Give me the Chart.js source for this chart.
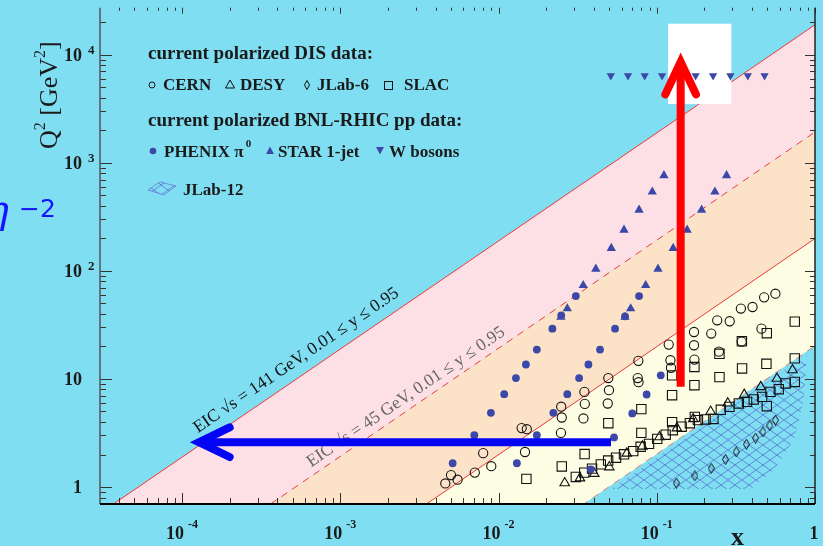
<!DOCTYPE html>
<html>
<head>
<meta charset="utf-8">
<script src="https://cdn.jsdelivr.net/npm/chart.js@4"></script>
<style>
html, body { margin: 0; padding: 0; background: #80def2; }
#wrap { position: relative; width: 823px; height: 546px; }
</style>
</head>
<body>
<div id="wrap"><canvas id="grafico"></canvas></div>
<script>
// Dados polarizados (x, Q2)
const cernX = [0.00461, 0.00501, 0.00551, 0.00708, 0.0080, 0.0090, 0.0140, 0.0151, 0.0147, 0.0249, 0.0251, 0.0248,
  0.0349, 0.0351, 0.0344, 0.0494, 0.0499, 0.0490, 0.0765, 0.0758, 0.0767, 0.119, 0.122, 0.123, 0.172, 0.172, 0.173,
  0.221, 0.241, 0.289, 0.340, 0.403, 0.477, 0.562, 0.459, 0.247, 0.344];
const cernQ2 = [1.08, 1.29, 1.17, 1.36, 2.06, 1.56, 3.51, 3.43, 2.11, 5.54, 4.40, 3.17,
  7.59, 5.88, 4.31, 10.2, 7.87, 5.93, 14.7, 10.2, 9.33, 20.8, 14.9, 12.7, 27.2, 20.5, 15.1,
  26.3, 34.9, 34.2, 44.8, 46.3, 56.9, 61.5, 29.2, 17.9, 22.2];

const desyX = [0.0262, 0.0327, 0.0403, 0.0501, 0.0646, 0.0811, 0.104, 0.134, 0.170, 0.219, 0.281, 0.357, 0.454, 0.575, 0.721];
const desyQ2 = [1.09, 1.21, 1.33, 1.53, 2.05, 2.38, 2.90, 3.51, 4.27, 5.00, 5.97, 7.16, 8.45, 10.1, 12.1];

const jlab6X = [0.133, 0.174, 0.221, 0.272, 0.318, 0.369, 0.421, 0.469, 0.518, 0.562];
const jlab6Q2 = [1.09, 1.27, 1.49, 1.80, 2.12, 2.49, 2.84, 3.24, 3.72, 4.16];

const slacX = [0.0150, 0.0251, 0.0350, 0.0494, 0.0799, 0.0799, 0.125, 0.125, 0.125, 0.173, 0.173, 0.174, 0.249, 0.249,
  0.345, 0.346, 0.496, 0.493, 0.745, 0.745, 0.496,
  0.0308, 0.0348, 0.0390, 0.0443, 0.0493, 0.0553, 0.0621, 0.0710, 0.0791, 0.0893, 0.1007, 0.1138, 0.1262, 0.1436,
  0.1619, 0.182, 0.2035, 0.228, 0.254, 0.288, 0.330, 0.372, 0.410, 0.463, 0.523, 0.590, 0.653, 0.745];
const slacQ2 = [1.19, 1.55, 2.02, 3.90, 5.26, 3.17, 10.8, 7.08, 3.99, 12.9, 8.75, 4.46, 17.1, 10.4,
  22.3, 12.5, 26.5, 13.8, 33.9, 15.5, 5.60,
  1.24, 1.36, 1.48, 1.62, 1.76, 1.87, 2.01, 2.15, 2.36, 2.51, 2.79, 3.05, 3.36, 3.62,
  3.90, 4.16, 4.22, 4.27, 5.18, 5.52, 5.93, 6.14, 6.46, 6.83, 7.59, 8.04, 9.08, 9.39];

const phenixX = [0.00513, 0.00703, 0.00895, 0.01086, 0.01288, 0.0149, 0.01746, 0.0219, 0.0249, 0.0308,
  0.01306, 0.01746, 0.0222, 0.0272, 0.0323, 0.0370, 0.0438, 0.0545, 0.0630, 0.0773,
  0.0383, 0.0537, 0.0700, 0.0863, 0.106];
const phenixQ2 = [1.66, 3.02, 4.86, 7.23, 10.2, 13.6, 18.7, 29.2, 38.8, 58.5,
  1.66, 3.02, 4.86, 7.23, 10.2, 13.6, 18.7, 29.2, 38.0, 58.5,
  1.46, 2.88, 4.80, 7.18, 10.8];

const starX = [0.0248, 0.0272, 0.0343, 0.0412, 0.0516, 0.0621, 0.0773, 0.0937, 0.111,
  0.0630, 0.0684, 0.0851, 0.1018, 0.127, 0.1556, 0.192, 0.233, 0.276];
const starQ2 = [37.4, 44.8, 73.5, 104, 162, 239, 366, 539, 763,
  37.4, 44.8, 73.5, 104, 162, 239, 366, 539, 763];

const wX = [0.0512, 0.0658, 0.0839, 0.108, 0.138, 0.176, 0.227, 0.292, 0.376, 0.480];
const wQ2 = [6400, 6400, 6400, 6400, 6400, 6400, 6400, 6400, 6400, 6400];

// Regiao JLab-12 (contorno)
const jlab12X = [0.0514, 0.393, 0.548, 0.734, 0.849, 0.886];
const jlab12Q2 = [0.958, 0.958, 1.44, 2.72, 6.36, 16.6];

// Limites cinematicos do EIC (extremos das retas)
const limiteX = [1e-5, 1];
const eic141Max = [0.189, 18887];
const eic45Max = [0.0192, 1924];
const eic141Min = [0.00199, 199];
const eic45Min = [0.0002, 20.25];

// Anotacoes
const caixaX = [0.119, 0.119, 0.294, 0.294];
const caixaQ2 = [19300, 3525, 3525, 19300];
const setaAzulX = [0.0514, 1.12e-4];
const setaAzulQ2 = 2.6;
const setaVermelhaX = 0.1416;
const setaVermelhaQ2 = [8.45, 10500];
const rotulo141 = [1.26e-4, 3.15];
const rotulo45 = [6.55e-4, 1.52];

// Eixos
const xTickValores = [1e-4, 1e-3, 1e-2, 1e-1, 1];
const xTickBase = ['10', '10', '10', '10', '1'];
const xTickExp = ['-4', '-3', '-2', '-1', ''];
const yTickValores = [1, 10, 100, 1000, 10000];
const yTickBase = ['1', '10', '10', '10', '10'];
const yTickExp = ['', '', '2', '3', '4'];

const corFundo = '#80def2';
const azul = '#3c48a8';
const serif = '"Liberation Serif", "Times New Roman", serif';

function pontos(xs, ys) {
    return xs.map((v, i) => ({ x: v, y: Array.isArray(ys) ? ys[i] : ys }));
}

function criarHachura(ctx) {
    const c = document.createElement('canvas');
    c.width = 14; c.height = 10;
    const g = c.getContext('2d');
    g.strokeStyle = 'rgba(70,70,200,0.7)';
    g.lineWidth = 0.8;
    g.beginPath();
    g.moveTo(0, 0); g.lineTo(14, 10);
    g.moveTo(0, 10); g.lineTo(14, 0);
    g.stroke();
    return ctx.createPattern(c, 'repeat');
}

function criarLosango() {
    const c = document.createElement('canvas');
    c.width = 7; c.height = 11;
    const g = c.getContext('2d');
    g.strokeStyle = '#111';
    g.lineWidth = 1;
    g.beginPath();
    g.moveTo(3.5, 0.5); g.lineTo(6.5, 5.5); g.lineTo(3.5, 10.5); g.lineTo(0.5, 5.5);
    g.closePath();
    g.stroke();
    return c;
}

function seta(ctx, x0, y0, x1, y1, cor, larg, aba, meioAng) {
    const ang = Math.atan2(y1 - y0, x1 - x0);
    // recua a ponta para que a juncao em esquadro termine em (x1, y1)
    const recuo = (larg / 2) / Math.sin(meioAng);
    const tx = x1 - Math.cos(ang) * recuo, ty = y1 - Math.sin(ang) * recuo;
    ctx.save();
    ctx.strokeStyle = cor;
    ctx.lineWidth = larg;
    ctx.lineCap = 'butt';
    ctx.beginPath();
    ctx.moveTo(x0, y0);
    ctx.lineTo(tx, ty);
    ctx.stroke();
    ctx.lineCap = 'round';
    ctx.lineJoin = 'miter';
    ctx.miterLimit = 10;
    ctx.beginPath();
    ctx.moveTo(tx - aba * Math.cos(ang - meioAng), ty - aba * Math.sin(ang - meioAng));
    ctx.lineTo(tx, ty);
    ctx.lineTo(tx - aba * Math.cos(ang + meioAng), ty - aba * Math.sin(ang + meioAng));
    ctx.stroke();
    ctx.restore();
}

function linha(ctx, a, b, c, d) {
    ctx.beginPath(); ctx.moveTo(a, b); ctx.lineTo(c, d); ctx.stroke();
}

const desenho = {
    id: 'desenho',
    beforeDraw(chart) {
        const ctx = chart.ctx;
        ctx.save();
        ctx.fillStyle = corFundo;
        ctx.fillRect(0, 0, chart.width, chart.height);
        ctx.restore();
    },
    afterDatasetsDraw(chart) {
        const { ctx, chartArea: a } = chart;
        const x = chart.scales.x, y = chart.scales.y;
        ctx.save();

        // marcas dos eixos (para dentro)
        ctx.strokeStyle = '#333';
        ctx.lineWidth = 1;
        for (let d = -5; d <= 0; d++) {
            for (let k = 1; k <= 9; k++) {
                const v = k * Math.pow(10, d);
                if (v < x.min || v > x.max * 1.0001) continue;
                const px = Math.round(x.getPixelForValue(v)) + 0.5;
                linha(ctx, px, a.bottom, px, a.bottom - (k === 1 ? 11 : 6));
                linha(ctx, px, a.top, px, a.top + (k === 1 ? 6 : 3));
            }
        }
        for (let d = -1; d <= 4; d++) {
            for (let k = 1; k <= 9; k++) {
                const v = k * Math.pow(10, d);
                if (v < y.min || v > y.max) continue;
                const py = Math.round(y.getPixelForValue(v)) + 0.5;
                linha(ctx, a.left, py, a.left + (k === 1 ? 12 : 6), py);
                linha(ctx, a.right, py, a.right - (k === 1 ? 10 : 5), py);
            }
        }
        // moldura
        ctx.strokeStyle = '#555';
        ctx.lineWidth = 1.5;
        linha(ctx, a.left, a.top, a.left, a.bottom);
        ctx.strokeStyle = '#222';
        linha(ctx, a.right, a.top, a.right, a.bottom);
        ctx.strokeStyle = '#000';
        ctx.lineWidth = 2;
        linha(ctx, a.left, a.bottom, a.right, a.bottom);

        // rotulos dos eixos
        ctx.fillStyle = '#1a1a1a';
        xTickValores.forEach((v, i) => {
            const px = x.getPixelForValue(v);
            if (xTickExp[i]) {
                ctx.font = 'bold 18px ' + serif;
                ctx.textAlign = 'right';
                ctx.fillText(xTickBase[i], px + 2, 539);
                ctx.font = 'bold 12px ' + serif;
                ctx.textAlign = 'left';
                ctx.fillText(xTickExp[i], px + 6, 528);
            } else {
                ctx.font = 'bold 18px ' + serif;
                ctx.textAlign = 'center';
                ctx.fillText(xTickBase[i], px - 1, 539);
            }
        });
        yTickValores.forEach((v, i) => {
            const py = y.getPixelForValue(v);
            ctx.font = 'bold 18px ' + serif;
            ctx.textAlign = 'right';
            ctx.fillText(yTickBase[i], 82, py + 6);
            if (yTickExp[i]) {
                ctx.font = 'bold 13px ' + serif;
                ctx.textAlign = 'left';
                ctx.fillText(yTickExp[i], 88, py - 1);
            }
        });
        ctx.textAlign = 'left';

        // rotulos das retas
        const ang = Math.atan2(y.getPixelForValue(10) - y.getPixelForValue(1),
            x.getPixelForValue(1e-2) - x.getPixelForValue(1e-3));
        [[rotulo141, 'EIC \u221As = 141 GeV, 0.01 \u2264 y \u2264 0.95', '#111'],
         [rotulo45, 'EIC \u221As = 45 GeV, 0.01 \u2264 y \u2264 0.95', '#666']].forEach(r => {
            ctx.save();
            ctx.translate(x.getPixelForValue(r[0][0]), y.getPixelForValue(r[0][1]));
            ctx.rotate(ang);
            ctx.fillStyle = r[2];
            ctx.font = '17.5px ' + serif;
            ctx.fillText(r[1], 0, 0);
            ctx.restore();
        });

        // caixa de legenda
        ctx.fillStyle = '#1a1a1a';
        ctx.font = 'bold 19px ' + serif;
        ctx.fillText('current polarized DIS data:', 148, 59);
        ctx.fillText('current polarized BNL-RHIC pp data:', 148, 126);
        ctx.font = 'bold 17px ' + serif;
        ctx.fillText('CERN', 163, 90);
        ctx.fillText('DESY', 240, 90);
        ctx.fillText('JLab-6', 317, 90);
        ctx.fillText('SLAC', 404, 90);
        ctx.fillText('PHENIX \u03C0', 164, 157);
        const wPi = ctx.measureText('PHENIX \u03C0').width;
        ctx.fillText('STAR 1-jet', 278, 157);
        ctx.fillText('W bosons', 389, 157);
        ctx.fillText('JLab-12', 183, 195);
        ctx.font = 'bold 11px ' + serif;
        ctx.fillText('0', 164 + wPi + 2, 147);

        ctx.strokeStyle = '#111';
        ctx.lineWidth = 1;
        ctx.beginPath(); ctx.arc(152, 85, 3, 0, Math.PI * 2); ctx.stroke();
        ctx.beginPath(); ctx.moveTo(230, 80); ctx.lineTo(234.5, 88); ctx.lineTo(225.5, 88); ctx.closePath(); ctx.stroke();
        ctx.beginPath(); ctx.moveTo(307, 80.5); ctx.lineTo(309.5, 85); ctx.lineTo(307, 89.5); ctx.lineTo(304.5, 85); ctx.closePath(); ctx.stroke();
        ctx.strokeRect(384.5, 81.5, 8, 8);
        ctx.fillStyle = azul;
        ctx.beginPath(); ctx.arc(153, 151, 3.3, 0, Math.PI * 2); ctx.fill();
        ctx.beginPath(); ctx.moveTo(270, 146.5); ctx.lineTo(274, 154); ctx.lineTo(266, 154); ctx.closePath(); ctx.fill();
        ctx.beginPath(); ctx.moveTo(376, 147); ctx.lineTo(384, 147); ctx.lineTo(380, 154.5); ctx.closePath(); ctx.fill();
        ctx.fillStyle = chart.$hachura;
        ctx.strokeStyle = 'rgba(90,90,200,0.6)';
        ctx.beginPath(); ctx.moveTo(148, 190); ctx.lineTo(160, 182); ctx.lineTo(176, 186); ctx.lineTo(164, 195); ctx.closePath();
        ctx.fill(); ctx.stroke();

        // setas
        const by = y.getPixelForValue(setaAzulQ2);
        seta(ctx, x.getPixelForValue(setaAzulX[0]), by, x.getPixelForValue(setaAzulX[1]), by, '#0505f5', 8, 34, 0.45);
        const rx = x.getPixelForValue(setaVermelhaX);
        seta(ctx, rx, y.getPixelForValue(setaVermelhaQ2[0]), rx, y.getPixelForValue(setaVermelhaQ2[1]), '#ff0000', 8, 36, 0.44);

        ctx.restore();
    },
    afterDraw(chart) {
        const ctx = chart.ctx;
        ctx.save();
        // titulo do eixo y
        ctx.translate(57, 149);
        ctx.rotate(-Math.PI / 2);
        ctx.fillStyle = '#1a1a1a';
        let cx = 0;
        [['Q', 26, 0], ['2', 16, -12], [' [GeV', 26, 0], ['2', 16, -12], [']', 26, 0]].forEach(p => {
            ctx.font = p[1] + 'px ' + serif;
            ctx.fillText(p[0], cx, p[2]);
            cx += ctx.measureText(p[0]).width;
        });
        ctx.restore();
        ctx.save();
        ctx.fillStyle = '#1a1a1a';
        ctx.font = 'bold 26px ' + serif;
        ctx.fillText('x', 731, 545);
        // texto parcialmente cortado a esquerda
        ctx.fillStyle = '#1414ff';
        ctx.font = 'italic 40px "DejaVu Serif", serif';
        ctx.textAlign = 'right';
        ctx.fillText('\u03B7', 9, 223);
        ctx.textAlign = 'left';
        ctx.font = '25px "DejaVu Sans", sans-serif';
        ctx.fillText('\u22122', 19, 217);
        ctx.restore();
    }
};

const ctxG = document.getElementById('grafico').getContext('2d');
const hachura = criarHachura(ctxG);
const losango = criarLosango();

const grafico = new Chart(ctxG, {
    type: 'scatter',
    data: {
        datasets: [
            { label: 'W bosons', data: pontos(wX, wQ2), pointStyle: 'triangle', rotation: 180, pointRadius: 4.8,
              backgroundColor: azul, borderColor: azul, borderWidth: 0, order: 1 },
            { label: 'STAR 1-jet', data: pontos(starX, starQ2), pointStyle: 'triangle', pointRadius: 5.4,
              backgroundColor: azul, borderColor: azul, borderWidth: 0, order: 1 },
            { label: 'PHENIX', data: pontos(phenixX, phenixQ2), pointStyle: 'circle', pointRadius: 3.9,
              backgroundColor: azul, borderColor: azul, borderWidth: 0, order: 1 },
            { label: 'CERN', data: pontos(cernX, cernQ2), pointStyle: 'circle', pointRadius: 4.6,
              backgroundColor: 'rgba(0,0,0,0)', borderColor: '#111', borderWidth: 1.1, order: 1 },
            { label: 'DESY', data: pontos(desyX, desyQ2), pointStyle: 'triangle', pointRadius: 5.5,
              backgroundColor: 'rgba(0,0,0,0)', borderColor: '#111', borderWidth: 1.1, order: 1 },
            { label: 'SLAC', data: pontos(slacX, slacQ2), pointStyle: 'rect', pointRadius: 6.6,
              backgroundColor: 'rgba(0,0,0,0)', borderColor: '#111', borderWidth: 1.1, order: 1 },
            { label: 'JLab-6', data: pontos(jlab6X, jlab6Q2), pointStyle: losango, pointRadius: 5, order: 1 },
            { type: 'line', label: 'JLab-12', data: pontos(jlab12X, jlab12Q2), fill: 'shape', backgroundColor: hachura,
              borderColor: 'rgba(0,0,0,0)', borderWidth: 0, pointRadius: 0, order: 4 },
            { type: 'line', label: 'caixa', data: pontos(caixaX, caixaQ2), fill: 'shape', backgroundColor: '#ffffff',
              borderColor: '#ffffff', borderWidth: 1, pointRadius: 0, order: 5 },
            { type: 'line', label: 'EIC 141 y=0.95', data: pontos(limiteX, eic141Max), fill: '+1', backgroundColor: '#fde0e6',
              borderColor: '#ee3a3a', borderWidth: 1, pointRadius: 0, order: 14 },
            { type: 'line', label: 'EIC 45 y=0.95', data: pontos(limiteX, eic45Max), fill: '+1', backgroundColor: '#fce3c8',
              borderColor: '#ee3a3a', borderWidth: 1, borderDash: [7, 6], pointRadius: 0, order: 13 },
            { type: 'line', label: 'EIC 141 y=0.01', data: pontos(limiteX, eic141Min), fill: '+1', backgroundColor: '#fdfde3',
              borderColor: '#ee3a3a', borderWidth: 1, pointRadius: 0, order: 12 },
            { type: 'line', label: 'EIC 45 y=0.01', data: pontos(limiteX, eic45Min), fill: false,
              borderColor: 'rgba(238,58,58,0.6)', borderWidth: 1, borderDash: [7, 6], pointRadius: 0, order: 11 }
        ]
    },
    options: {
        responsive: true,
        maintainAspectRatio: false,
        animation: false,
        layout: { padding: { left: 100, right: 8, top: 7, bottom: 42 } },
        plugins: { legend: { display: false }, tooltip: { enabled: false } },
        scales: {
            x: { type: 'logarithmic', min: 3.03e-5, max: 1, display: false },
            y: { type: 'logarithmic', min: 0.697, max: 27200, display: false }
        }
    },
    plugins: [desenho]
});
grafico.$hachura = hachura;
grafico.draw();
</script>
</body>
</html>
